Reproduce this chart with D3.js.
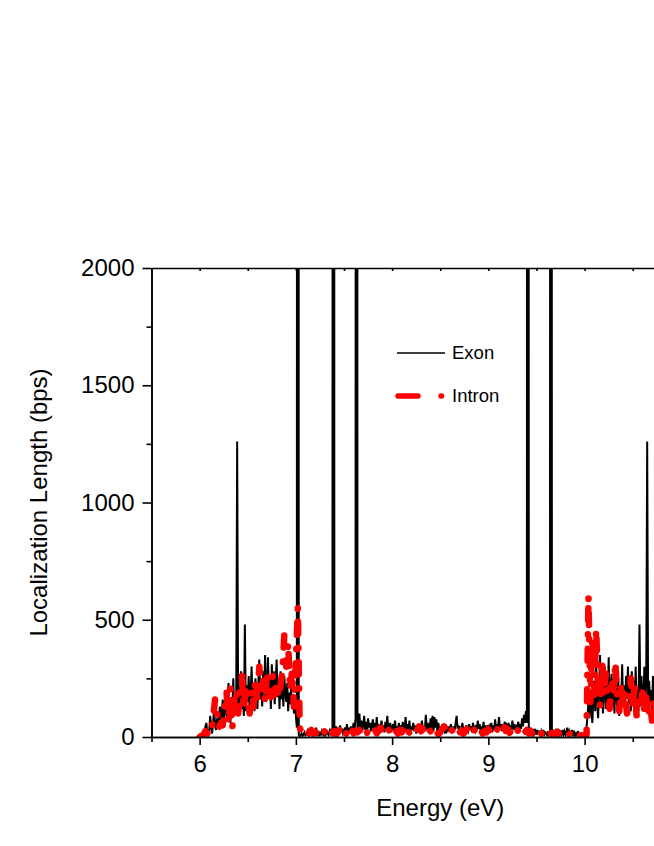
<!DOCTYPE html>
<html>
<head>
<meta charset="utf-8">
<script src="https://cdn.jsdelivr.net/npm/d3@7"></script>
<style>
    html, body { margin: 0; padding: 0; background: #fff; }
    text { font-family: 'Liberation Sans', Arial, sans-serif; }
</style>
</head>
<body>
<div id="container"></div>
<script>
// exon sampled 6.00 .. 10.80 eV every 0.01 eV, values above 2000 run off the frame
const exonStart = 6.0;
const exonStep = 0.01;
const exon = [
    0, 2, 5, 10, 6, 20, 45, 60, 20, 8,                          // 6.0
    30, 90, 40, 15, 60, 120, 50, 30, 80, 40,                    // 6.1
    70, 130, 50, 90, 160, 70, 110, 200, 90, 140,                // 6.2
    230, 100, 60, 170, 120, 250, 90, 150, 130, 1260,            // 6.3
    140, 100, 200, 280, 120, 160, 90, 480, 110, 220,            // 6.4
    150, 260, 100, 180, 300, 140, 210, 110, 250, 170,           // 6.5
    120, 220, 330, 160, 240, 130, 280, 180, 350, 150,           // 6.6
    200, 340, 170, 260, 120, 310, 190, 280, 140, 230,           // 6.7
    330, 170, 250, 120, 280, 160, 220, 130, 260, 190,           // 6.8
    150, 230, 110, 190, 140, 210, 120, 180, 100, 160,           // 6.9
    90, 40, 20000, 10, 3, 8, 15, 5, 10, 20,                     // 7.0
    8, 12, 25, 10, 6, 15, 30, 10, 20, 8,                        // 7.1
    15, 40, 12, 20, 8, 18, 10, 25, 12, 6,                       // 7.2
    20, 10, 30, 15, 8, 25, 12, 35, 18, 20000,                   // 7.3
    25, 20, 45, 15, 30, 10, 50, 20, 35, 15,                     // 7.4
    25, 40, 12, 55, 20, 30, 15, 45, 25, 35,                     // 7.5
    60, 30, 80, 20000, 35, 40, 100, 30, 70, 25,                 // 7.6
    55, 90, 30, 65, 20, 80, 40, 60, 25, 50,                     // 7.7
    75, 30, 60, 20, 85, 35, 55, 15, 45, 70,                     // 7.8
    30, 50, 20, 65, 35, 90, 25, 45, 60, 20,                     // 7.9
    40, 55, 25, 70, 30, 45, 15, 60, 35, 50,                     // 8.0
    20, 65, 30, 40, 85, 25, 55, 35, 70, 20,                     // 8.1
    45, 30, 60, 25, 50, 15, 40, 30, 55, 25,                     // 8.2
    35, 70, 20, 45, 30, 95, 40, 25, 60, 35,                     // 8.3
    80, 30, 90, 25, 85, 40, 75, 20, 60, 30,                     // 8.4
    45, 20, 55, 35, 25, 50, 15, 40, 30, 45,                     // 8.5
    25, 55, 35, 20, 45, 30, 60, 90, 35, 50,                     // 8.6
    20, 45, 30, 60, 25, 40, 15, 50, 35, 25,                     // 8.7
    55, 30, 45, 20, 60, 35, 25, 50, 30, 70,                     // 8.8
    35, 55, 20, 45, 30, 65, 25, 40, 30, 50,                     // 8.9
    25, 45, 35, 60, 20, 50, 30, 75, 35, 55,                     // 9.0
    30, 85, 40, 55, 25, 45, 35, 65, 30, 50,                     // 9.1
    40, 60, 25, 50, 35, 70, 30, 55, 40, 45,                     // 9.2
    30, 65, 40, 55, 35, 80, 45, 95, 60, 110,                    // 9.3
    60, 20000, 30, 15, 40, 20, 10, 35, 15, 25,                  // 9.4
    10, 30, 15, 20, 8, 25, 12, 30, 10, 20,                      // 9.5
    15, 8, 25, 10, 20, 20000, 20, 8, 30, 12,                    // 9.6
    25, 10, 35, 15, 8, 20, 10, 30, 12, 25,                      // 9.7
    8, 20, 40, 12, 25, 8, 15, 30, 10, 20,                       // 9.8
    5, 15, 8, 25, 10, 5, 12, 3, 6, 2,                           // 9.9
    3, 8, 40, 90, 150, 80, 200, 120, 60, 160,                   // 10.0
    240, 110, 330, 150, 80, 200, 350, 130, 260, 100,            // 10.1
    190, 300, 120, 240, 160, 340, 110, 200, 270, 140,           // 10.2
    230, 100, 280, 170, 120, 250, 90, 200, 150, 310,            // 10.3
    130, 220, 100, 260, 170, 300, 140, 230, 110, 280,           // 10.4
    160, 240, 120, 300, 150, 200, 110, 480, 130, 260,           // 10.5
    180, 120, 300, 160, 220, 1260, 110, 240, 150, 200,          // 10.6
    90, 260, 140, 220, 100, 180, 130, 240, 80, 200,             // 10.7
    120                                                         // 10.8
];

// intron sampled 6.00 .. 10.80 eV every 0.02 eV
const intronStart = 6.0;
const intronStep = 0.02;
const intron = [
    0, 5, 10, 25, 15, 30, 20, 80, 160, 110,                     // 6.00
    40, 60, 50, 120, 190, 60, 210, 40, 150, 200,                // 6.20
    100, 180, 260, 120, 220, 150, 100, 200, 130, 250,           // 6.40
    160, 300, 180, 240, 150, 280, 190, 170, 260, 180,           // 6.60
    230, 170, 220, 280, 440, 300, 400, 200, 280, 130,           // 6.80
    320, 550, 40, 20, 15, 25, 12, 20, 30, 15,                   // 7.00
    22, 10, 18, 28, 14, 24, 10, 20, 32, 16,                     // 7.20
    25, 12, 22, 35, 18, 28, 12, 30, 20, 38,                     // 7.40
    15, 25, 20, 30, 14, 26, 35, 18, 28, 12,                     // 7.60
    22, 32, 16, 30, 40, 20, 26, 14, 32, 22,                     // 7.80
    38, 18, 25, 15, 30, 20, 35, 12, 28, 18,                     // 8.00
    24, 36, 20, 30, 45, 25, 35, 18, 28, 40,                     // 8.20
    22, 32, 15, 26, 12, 20, 35, 45, 28, 38,                     // 8.40
    20, 30, 16, 26, 34, 18, 28, 14, 24, 36,                     // 8.60
    20, 30, 42, 25, 35, 18, 28, 15, 26, 20,                     // 8.80
    34, 22, 30, 14, 24, 38, 20, 30, 45, 26,                     // 9.00
    35, 18, 28, 40, 22, 32, 16, 26, 36, 20,                     // 9.20
    30, 15, 25, 12, 22, 30, 18, 10, 20, 15,                     // 9.40
    25, 12, 20, 8, 18, 14, 22, 10, 16, 8,                       // 9.60
    14, 6, 12, 20, 10, 5, 12, 4, 8, 5,                          // 9.80
    5, 10, 600, 150, 420, 180, 460, 200, 130, 330,              // 10.00
    180, 270, 160, 120, 250, 200, 320, 150, 110, 230,           // 10.20
    130, 190, 100, 140, 250, 120, 230, 90, 160, 130,            // 10.40
    190, 110, 170, 90, 140, 70, 160, 100, 140, 80,              // 10.60
    120                                                         // 10.80
];

const xMajor = [6, 7, 8, 9, 10];
const xMinor = [5.5, 6.5, 7.5, 8.5, 9.5, 10.5, 11.5];
const yMajor = [0, 500, 1000, 1500, 2000];
const yMinor = [250, 750, 1250, 1750];

const W = 654, H = 846;
const plotLeft = 151.5, plotRight = 729, plotTop = 268, plotBottom = 737;

const svg = d3.select('#container')
    .append('svg')
    .attr('width', W)
    .attr('height', H)
    .style('display', 'block');

svg.append('rect')
    .attr('width', W)
    .attr('height', H)
    .attr('fill', '#fff');

const x = d3.scaleLinear().domain([5.5, 11.5]).range([plotLeft, plotRight]);
const y = d3.scaleLinear().domain([0, 2000]).range([plotBottom, plotTop]);

svg.append('clipPath')
    .attr('id', 'plot')
    .append('rect')
    .attr('x', plotLeft)
    .attr('y', plotTop)
    .attr('width', plotRight - plotLeft)
    .attr('height', plotBottom - plotTop);

const lineFor = (start, step) => d3.line()
    .x((d, i) => x(start + i * step))
    .y(d => y(d));

const plot = svg.append('g').attr('clip-path', 'url(#plot)');

plot.append('path')
    .datum(exon)
    .attr('d', lineFor(exonStart, exonStep))
    .attr('fill', 'none')
    .attr('stroke', '#000')
    .attr('stroke-width', 2)
    .attr('stroke-linejoin', 'miter');

plot.append('path')
    .datum(intron)
    .attr('d', lineFor(intronStart, intronStep))
    .attr('fill', 'none')
    .attr('stroke', '#ff0000')
    .attr('stroke-width', 6.5)
    .attr('stroke-linecap', 'round')
    .attr('stroke-linejoin', 'round')
    .attr('stroke-dasharray', '12,14,0.5,14');

// axes
const axisStyle = g => {
    g.select('.domain').attr('stroke', '#000').attr('stroke-width', 1.6);
    g.selectAll('.tick line').attr('stroke', '#000').attr('stroke-width', 1.6);
    g.selectAll('.tick text').attr('fill', '#000').attr('font-size', 24)
        .attr('font-family', "'Liberation Sans', Arial, sans-serif");
};

svg.append('g')
    .attr('transform', `translate(0,${plotBottom})`)
    .call(d3.axisBottom(x).tickValues(xMinor).tickSize(5).tickSizeOuter(0).tickFormat(''))
    .call(axisStyle);

svg.append('g')
    .attr('transform', `translate(0,${plotBottom})`)
    .call(d3.axisBottom(x).tickValues(xMajor).tickSize(8).tickSizeOuter(0).tickPadding(10).tickFormat(d3.format('d')))
    .call(axisStyle);

svg.append('g')
    .attr('transform', `translate(0,${plotTop})`)
    .call(d3.axisBottom(x).tickValues(xMajor.concat(xMinor)).tickSize(3).tickSizeOuter(0).tickFormat(''))
    .call(axisStyle);

svg.append('g')
    .attr('transform', `translate(${plotLeft},0)`)
    .call(d3.axisLeft(y).tickValues(yMinor).tickSize(5).tickSizeOuter(0).tickFormat(''))
    .call(axisStyle);

svg.append('g')
    .attr('transform', `translate(${plotLeft},0)`)
    .call(d3.axisLeft(y).tickValues(yMajor).tickSize(9).tickSizeOuter(0).tickPadding(8).tickFormat(d3.format('d')))
    .call(axisStyle);

svg.append('g')
    .attr('transform', `translate(${plotRight},0)`)
    .call(d3.axisLeft(y).tickValues(yMajor.concat(yMinor)).tickSize(3).tickSizeOuter(0).tickFormat(''))
    .call(axisStyle);

// titles
svg.append('text')
    .attr('x', (plotLeft + plotRight) / 2)
    .attr('y', 816)
    .attr('text-anchor', 'middle')
    .attr('font-size', 24)
    .text('Energy (eV)');

svg.append('text')
    .attr('transform', `translate(47,${(plotTop + plotBottom) / 2}) rotate(-90)`)
    .attr('text-anchor', 'middle')
    .attr('font-size', 24)
    .text('Localization Length (bps)');

// legend
const legend = svg.append('g');

legend.append('line')
    .attr('x1', 397).attr('x2', 445)
    .attr('y1', 353).attr('y2', 353)
    .attr('stroke', '#000')
    .attr('stroke-width', 1.6);

legend.append('text')
    .attr('x', 452).attr('y', 353)
    .attr('dy', '0.35em')
    .attr('font-size', 18.5)
    .text('Exon');

legend.append('line')
    .attr('x1', 398).attr('x2', 445)
    .attr('y1', 396).attr('y2', 396)
    .attr('stroke', '#ff0000')
    .attr('stroke-width', 5.5)
    .attr('stroke-linecap', 'round')
    .attr('stroke-dasharray', '20,23,0.5,30');

legend.append('text')
    .attr('x', 452).attr('y', 396)
    .attr('dy', '0.35em')
    .attr('font-size', 18.5)
    .text('Intron');
</script>
</body>
</html>
